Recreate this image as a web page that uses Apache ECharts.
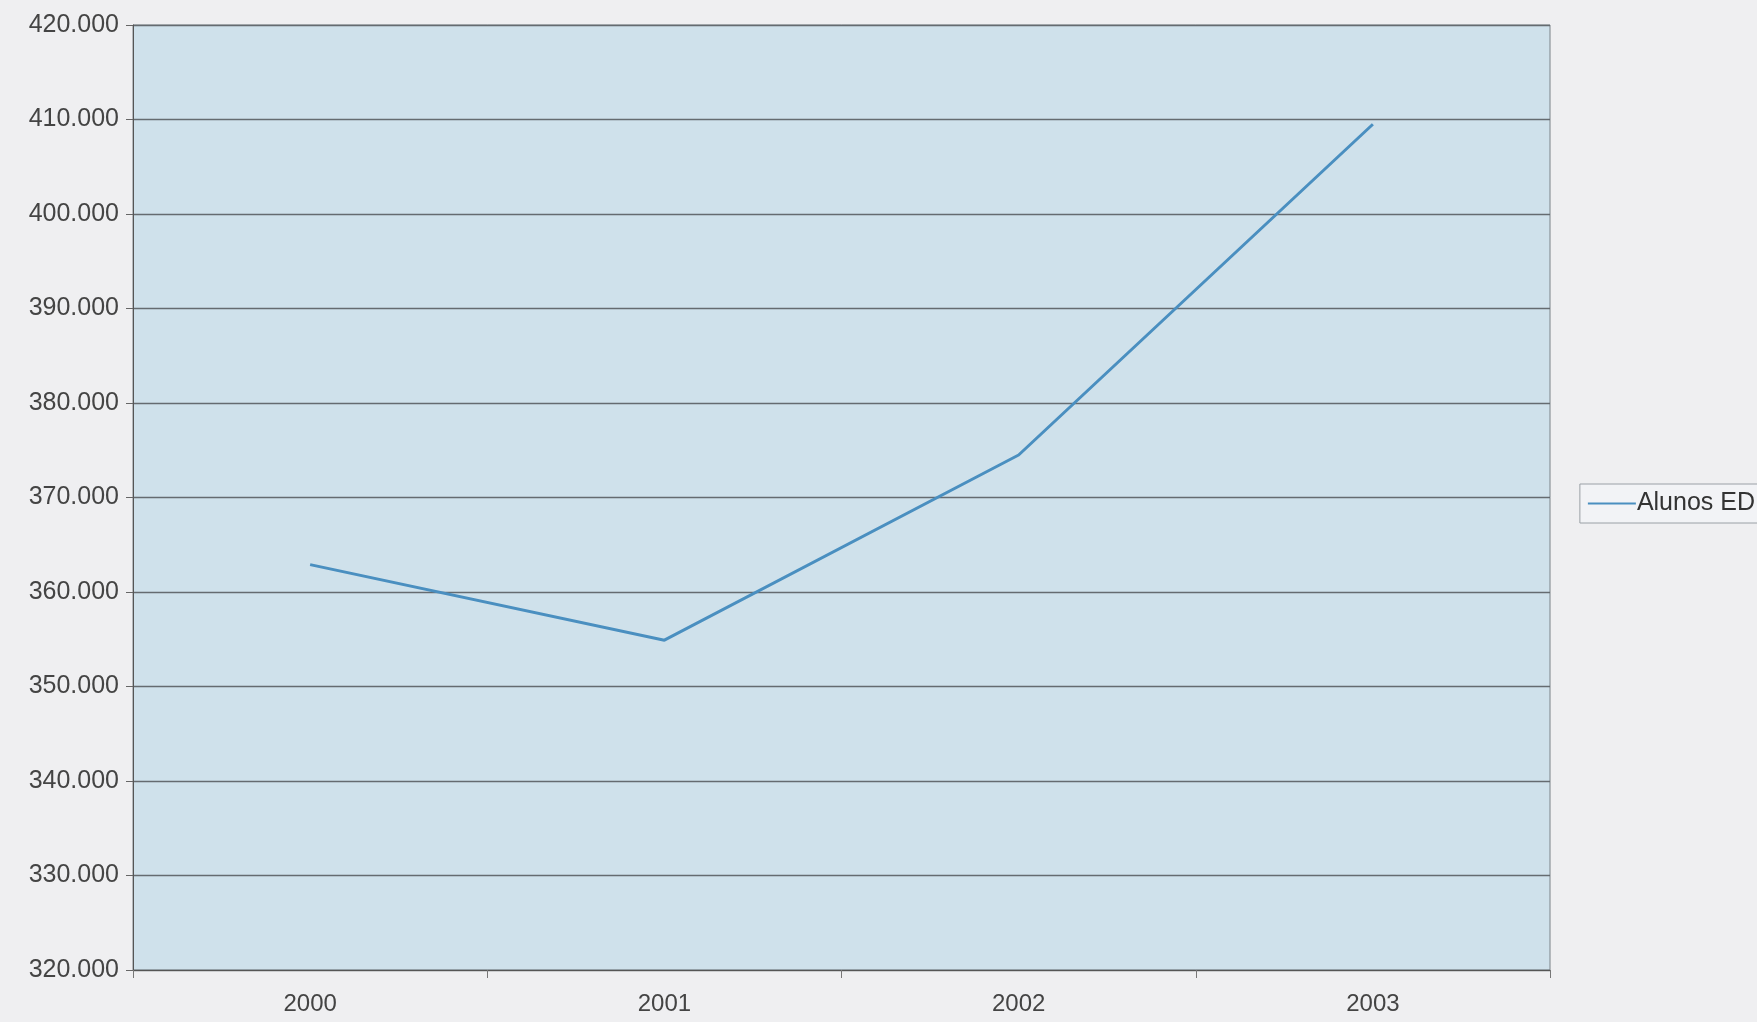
<!DOCTYPE html>
<html>
<head>
<meta charset="utf-8">
<style>
html,body{margin:0;padding:0;background:#efeff1;}
#chart{width:1757px;height:1022px;}
</style>
<script src="https://cdn.jsdelivr.net/npm/echarts@6/dist/echarts.min.js"></script>
</head>
<body>
<div id="chart"></div>
<script>
const categories = ['2000', '2001', '2002', '2003'];
const seriesName = 'Alunos ED';
const alunosED = [362900, 354900, 374500, 409500];
const yMin = 320000, yMax = 420000, yStep = 10000;

const chart = echarts.init(document.getElementById('chart'));
chart.setOption({
  backgroundColor: '#efeff1',
  animation: false,
  grid: {
    left: 133, right: 207, top: 25, bottom: 52,
    show: true, backgroundColor: '#cfe1eb', borderColor: '#7a8288', borderWidth: 1
  },
  legend: {
    show: true,
    right: -2, top: 484,
    orient: 'vertical',
    backgroundColor: '#f2f3f6',
    borderColor: '#9aa0a6', borderWidth: 1,
    padding: [7, 4, 7, 8],
    itemWidth: 48, itemHeight: 2,
    itemGap: 0,
    icon: 'rect',
    textStyle: { fontFamily: 'Liberation Sans, Arial', fontSize: 25, color: '#333', padding: [0,0,0,-4] },
    data: [seriesName]
  },
  xAxis: {
    type: 'category',
    data: categories,
    boundaryGap: true,
    axisLine: { lineStyle: { color: '#555', width: 1 } },
    axisTick: { show: true, length: 8, lineStyle: { color: '#777' } },
    axisLabel: { fontFamily: 'Liberation Sans, Arial', fontSize: 24, color: '#444', margin: 22 },
    splitLine: { show: false }
  },
  yAxis: {
    type: 'value',
    min: yMin, max: yMax, interval: yStep,
    axisLine: { show: true, lineStyle: { color: '#555', width: 1 } },
    axisTick: { show: true, length: 7, lineStyle: { color: '#666' } },
    axisLabel: {
      fontFamily: 'Liberation Sans, Arial', fontSize: 25, color: '#444', margin: 14,
      formatter: v => (v / 1000).toFixed(0) + '.000'
    },
    splitLine: { show: true, lineStyle: { color: '#656b70', width: 1.4 } }
  },
  series: [{
    name: seriesName,
    type: 'line',
    data: alunosED,
    symbol: 'none',
    lineStyle: { color: '#4a8fc0', width: 3 },
    itemStyle: { color: '#4a8fc0' }
  }]
});
</script>
</body>
</html>
